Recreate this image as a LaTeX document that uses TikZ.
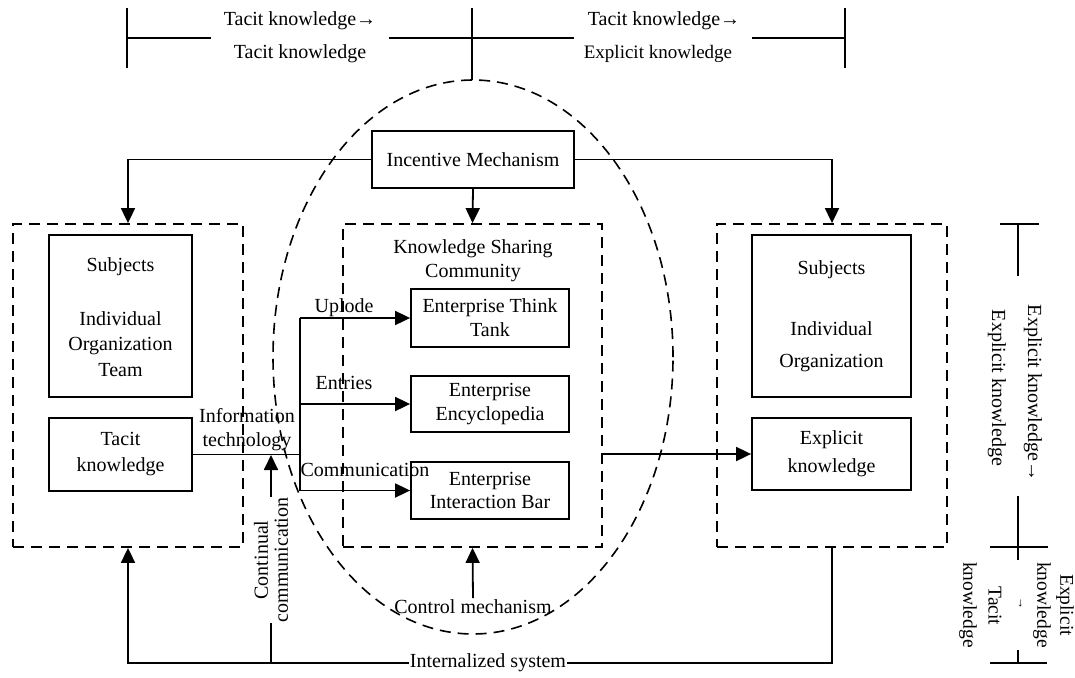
\documentclass[tikz,border=0pt]{standalone}
\usepackage{fontspec}
\setmainfont{Liberation Serif}
\usetikzlibrary{arrows.meta}
\begin{document}
\begin{tikzpicture}[x=1pt,y=-1pt,line width=1.8pt,
  font=\fontsize{20}{25}\selectfont,
  box/.style={draw,line width=1.8pt,inner sep=0pt},
  dbox/.style={draw,line width=1.8pt,inner sep=0pt,dash pattern=on 11pt off 7pt},
  dsh/.style={line width=1.6pt,dash pattern=on 11pt off 7pt},
  arr/.style={-{Triangle[length=15pt,width=14pt]}},
  lbl/.style={inner sep=1pt,align=center},
  wlbl/.style={inner sep=1pt,align=center,fill=white}]
\useasboundingbox (0,0) rectangle (1075,677);

% ellipse
\draw[dsh] (473,357) ellipse [x radius=200pt, y radius=277pt];

% top scale
\coordinate (ts1) at (127,38); \coordinate (ts2) at (211,38);
\coordinate (ts3) at (389,38); \coordinate (ts4) at (574,38);
\coordinate (ts5) at (752,38); \coordinate (ts6) at (845,38);
\draw (ts1) -- (ts2); \draw (ts3) -- (ts4); \draw (ts5) -- (ts6);
\coordinate (tk1a) at (127,8); \coordinate (tk1b) at (127,68);
\coordinate (tk2a) at (472,8); \coordinate (tk2b) at (472,80);
\coordinate (tk3a) at (845,8); \coordinate (tk3b) at (845,68);
\draw (tk1a) -- (tk1b); \draw (tk2a) -- (tk2b); \draw (tk3a) -- (tk3b);
\node[lbl] (tt1) at (300,21) {Tacit knowledge→};
\node[lbl] (tt2) at (300,54) {Tacit knowledge};
\node[lbl] (tt3) at (664,21) {Tacit knowledge→};
\node[lbl,font=\fontsize{19}{24}\selectfont] (tt4) at (658,54) {Explicit knowledge};

% boxes
\node[box,minimum width=202pt,minimum height=57pt] (inc) at (473,159.5) {Incentive Mechanism};
\node[dbox,minimum width=230pt,minimum height=323pt] (leftD) at (128,385.5) {};
\node[dbox,minimum width=259pt,minimum height=323pt] (midD) at (472.5,385.5) {};
\node[dbox,minimum width=230pt,minimum height=323pt] (rightD) at (832,385.5) {};

\node[box,minimum width=143pt,minimum height=162pt] (subjL) at (120.5,316) {};
\node[lbl] (subjLt) at (120.5,267) {Subjects};
\node[lbl,font=\fontsize{20}{25.5}\selectfont] (subjLm) at (120.5,344) {Individual\\Organization\\Team};
\node[box,minimum width=143pt,minimum height=73pt,align=center,
  font=\fontsize{20}{26}\selectfont] (tacit) at (120.5,454.5) {Tacit\\knowledge};

\node[box,minimum width=159pt,minimum height=162pt] (subjR) at (831.5,316) {};
\node[lbl] (subjRt) at (831.5,270) {Subjects};
\node[lbl,font=\fontsize{20}{32}\selectfont] (subjRm) at (831.5,347) {Individual\\Organization};
\node[box,minimum width=159pt,minimum height=72pt,align=center,
  font=\fontsize{20}{28}\selectfont] (expl) at (831.5,454) {Explicit\\knowledge};

\node[lbl,font=\fontsize{20}{24}\selectfont] (ksc) at (473,261) {Knowledge Sharing\\Community};
\node[box,minimum width=158pt,minimum height=58pt,align=center,
  font=\fontsize{20}{24}\selectfont] (think) at (490,318) {Enterprise Think\\Tank};
\node[box,minimum width=158pt,minimum height=56pt,align=center,
  font=\fontsize{20}{23.5}\selectfont] (enc) at (490,404) {Enterprise\\Encyclopedia};
\node[box,minimum width=158pt,minimum height=57pt,align=center,
  font=\fontsize{20}{23.5}\selectfont] (bar) at (490,490.5) {Enterprise\\Interaction Bar};

% incentive connectors
\draw[arr] (inc.west) -| (leftD.north);
\draw[arr] (inc.east) -| (rightD.north);
\draw[arr] (inc.south) -- (midD.north);

% information technology branch
\coordinate (split) at (300,454.5);
\coordinate (b1) at (300,318);
\coordinate (b3) at (300,490.5);
\draw (tacit.east) -- (split);
\draw (b1) -- (b3);
\draw[arr] (b1) -- (think.west);
\draw[arr] (split |- enc.west) -- (enc.west);
\draw[arr] (b3) -- (bar.west);
\node[lbl,font=\fontsize{20}{24}\selectfont] (itl) at (247,430) {Information\\technology};
\node[lbl] (upl) at (344,308) {Uplode};
\node[lbl] (ent) at (344,383) {Entries};
\node[lbl] (coml) at (365,470) {Communication};

% to explicit
\draw[arr] (midD.east |- expl.west) -- (expl.west);

% bottom loop
\coordinate (bl) at (128,663);
\coordinate (br) at (832,663);
\draw[arr] (rightD.south) -- (br) -- (bl) -- (leftD.south);
\node[wlbl] (intl) at (488,663) {Internalized system};

% continual communication
\coordinate (cc) at (271,663);
\coordinate (ccTip) at (271,455);
\draw[arr] (cc) -- (ccTip);
\node[wlbl,rotate=90,font=\fontsize{20}{20}\selectfont] (ccl) at (271,560) {Continual\\communication};

% control mechanism
\node[lbl] (ctrl) at (473,607) {Control mechanism};
\draw[arr] (ctrl.north) -- (midD.south);

% right scale
\coordinate (r1a) at (1000,224); \coordinate (r1b) at (1039,224);
\coordinate (r2a) at (1018,224); \coordinate (r2b) at (1018,276);
\coordinate (r3a) at (1018,496); \coordinate (r3b) at (1018,560);
\coordinate (r4a) at (990,547); \coordinate (r4b) at (1048,547);
\coordinate (r5a) at (1018,650); \coordinate (r5b) at (1018,663);
\coordinate (r6a) at (990,663); \coordinate (r6b) at (1047,663);
\draw (r1a) -- (r1b); \draw (r2a) -- (r2b); \draw (r3a) -- (r3b);
\draw (r4a) -- (r4b); \draw (r5a) -- (r5b); \draw (r6a) -- (r6b);
\node[lbl,rotate=-90] (rs1) at (1033,393) {Explicit knowledge→};
\node[lbl,rotate=-90] (rs2) at (997,388) {Explicit knowledge};
\node[lbl,rotate=-90,font=\fontsize{19.5}{20}\selectfont] (rb1) at (1065,605) {Explicit};
\node[lbl,rotate=-90,font=\fontsize{19.5}{20}\selectfont] (rb2) at (1042,605) {knowledge};
\node[lbl,rotate=-90,font=\fontsize{12}{14}\selectfont] (rb3) at (1020,603) {→};
\node[lbl,rotate=-90,font=\fontsize{19.5}{20}\selectfont] (rb4) at (995,606) {Tacit};
\node[lbl,rotate=-90,font=\fontsize{19.5}{20}\selectfont] (rb5) at (968,605) {knowledge};
\end{tikzpicture}
\end{document}
